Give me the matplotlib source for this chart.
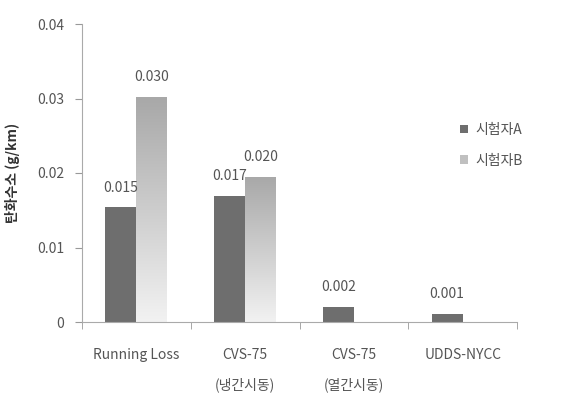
import matplotlib
matplotlib.use("Agg")
import matplotlib.pyplot as plt
import numpy as np

plt.rcParams['font.family'] = ['Noto Sans CJK KR', 'DejaVu Sans']

categories = ["Running Loss", "CVS-75\n(냉간시동)", "CVS-75\n(열간시동)", "UDDS-NYCC"]
series_a = [0.0154, 0.0169, 0.0020, 0.0011]
series_b = [0.0302, 0.0195, 0.0, 0.0]
labels_a = ["0.015", "0.017", "0.002", "0.001"]
labels_b = ["0.030", "0.020", "", ""]
series_names = ["시험자A", "시험자B"]
yticks = [0, 0.01, 0.02, 0.03, 0.04]
ytick_labels = ["0", "0.01", "0.02", "0.03", "0.04"]

fig = plt.figure(figsize=(5.77, 3.96), dpi=100)
ax = fig.add_axes([82/577, 1-322/396, (517-82)/577, (322-24)/396])

x = np.arange(len(categories))
w = 0.285
txtc = "#555555"
fs = 10
bars_a = ax.bar(x - w/2, series_a, w, color="#6e6e6e", label=series_names[0])
bars_b = ax.bar(x + w/2, series_b, w, color="#c8c8c8", label=series_names[1])

ax.set_xlim(-0.5, len(categories)-0.5)
ax.set_ylim(0, 0.04)

# gradient fill for series B
grad = np.linspace(0, 1, 256).reshape(-1, 1)
cmap = matplotlib.colors.LinearSegmentedColormap.from_list("g", ["#f2f2f2", "#a8a8a8"])
for b in bars_b:
    h = b.get_height()
    if h <= 0:
        continue
    b.set_facecolor("none")
    im = ax.imshow(grad, cmap=cmap, aspect="auto", origin="lower",
                   extent=[b.get_x(), b.get_x()+b.get_width(), 0, h], zorder=1)
    im.set_clip_path(b)
ax.set_xlim(-0.5, len(categories)-0.5)
ax.set_ylim(0, 0.04)

for b, l in zip(bars_a, labels_a):
    ax.text(b.get_x()+b.get_width()/2, b.get_height()+0.0017, l, ha="center", va="bottom",
            fontsize=fs, color=txtc)
for b, l in zip(bars_b, labels_b):
    if l:
        ax.text(b.get_x()+b.get_width()/2, b.get_height()+0.0017, l, ha="center", va="bottom",
                fontsize=fs, color=txtc)

ax.set_yticks(yticks)
ax.set_yticklabels(ytick_labels, fontsize=fs, color=txtc)
ax.set_xticks(x)
ax.set_xticklabels(categories, fontsize=fs, color=txtc, linespacing=2.25)
ax.set_xticks(np.arange(len(categories)+1) - 0.5, minor=True)
ax.tick_params(axis="x", which="major", length=0, pad=19)
ax.tick_params(axis="x", which="minor", length=5, color="#999999", direction="out")
ax.tick_params(axis="y", length=5, color="#999999", direction="out", pad=8)
for s in ["top", "right"]:
    ax.spines[s].set_visible(False)
for s in ["left", "bottom"]:
    ax.spines[s].set_color("#aaaaaa")

ax.set_ylabel("탄화수소 (g/km)", fontsize=10, fontweight="bold", color="#333333", labelpad=12)

from matplotlib.patches import Patch
handles = [Patch(facecolor="#6e6e6e"), Patch(facecolor="#c0c0c0")]
ax.legend(handles, series_names, loc="upper left", bbox_to_anchor=(0.84, 0.71), frameon=False,
          fontsize=fs, handlelength=0.6, handleheight=0.6, labelspacing=1.2,
          handletextpad=0.5, labelcolor=txtc)

fig.savefig("out.png", dpi=100)
